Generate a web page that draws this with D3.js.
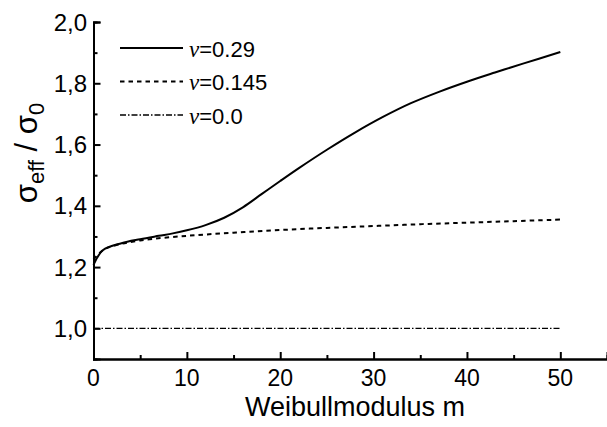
<!DOCTYPE html>
<html>
<head>
<meta charset="utf-8">
<script src="https://cdn.jsdelivr.net/npm/d3@7"></script>
<style>
body { margin: 0; background: #fff; }
svg { display: block; }
text { font-family: "Liberation Sans", Arial, sans-serif; fill: #000; }
</style>
</head>
<body>
<svg id="chart" width="607" height="427"></svg>
<script>
// nu = 0.29
var mSolid = [0, 1, 3, 5, 7, 8.5, 10, 12, 14, 16, 18, 20, 22, 25, 28, 31, 34, 37, 40, 43, 46, 50];
var sSolid = [1.207, 1.255, 1.278, 1.291, 1.302, 1.31, 1.32, 1.337, 1.361, 1.395, 1.438, 1.481, 1.523, 1.583, 1.639, 1.69, 1.735, 1.772, 1.805, 1.835, 1.864, 1.902];
// nu = 0.145
var mDashed = [0, 1, 2, 5, 10, 15, 20, 25, 30, 35, 40, 45, 50];
var sDashed = [1.225, 1.255, 1.268, 1.287, 1.302, 1.312, 1.321, 1.328, 1.334, 1.34, 1.345, 1.35, 1.355];
// nu = 0.0
var mDashDot = [0, 50];
var sDashDot = [1.0, 1.0];

var legendLabels = ["=0.29", "=0.145", "=0.0"];
var xTicks = [0, 10, 20, 30, 40, 50];
var yTicks = [1.0, 1.2, 1.4, 1.6, 1.8, 2.0];

var svg = d3.select("#chart");

var x = d3.scaleLinear().domain([0, 55]).range([93.5, 607]);
var y = d3.scaleLinear().domain([0.9, 2.0]).range([359, 22]);

function fmt(d) { return d3.format(".1f")(d).replace(".", ","); }

// axes, ticks pointing inward
var xAxis = d3.axisTop(x).tickValues(xTicks).tickSize(7).tickFormat("");
var xMinor = d3.axisTop(x).tickValues([5, 15, 25, 35, 45]).tickSize(4).tickFormat("");
var yAxis = d3.axisRight(y).tickValues(yTicks).tickSize(7).tickFormat("");
var yMinor = d3.axisRight(y).tickValues([1.1, 1.3, 1.5, 1.7, 1.9]).tickSize(4).tickFormat("");

svg.append("g").attr("transform", "translate(0," + y(0.9) + ")").call(xAxis);
svg.append("g").attr("transform", "translate(0," + y(0.9) + ")").call(xMinor);
svg.append("g").attr("transform", "translate(" + x(0) + ",0)").call(yAxis);
svg.append("g").attr("transform", "translate(" + x(0) + ",0)").call(yMinor);

svg.selectAll(".domain").attr("stroke", "#000").attr("stroke-width", 2);
svg.selectAll(".tick line").attr("stroke", "#000").attr("stroke-width", 2);

svg.selectAll(".xlab").data(xTicks).enter().append("text")
	.attr("x", function(d){ return x(d); })
	.attr("y", 386)
	.attr("text-anchor", "middle")
	.style("font-size", "23px")
	.text(function(d){ return d; });

svg.selectAll(".ylab").data(yTicks).enter().append("text")
	.attr("x", 87)
	.attr("y", function(d){ return y(d) + 8.5; })
	.attr("text-anchor", "end")
	.style("font-size", "24px")
	.text(fmt);

svg.append("text")
	.attr("x", 355)
	.attr("y", 416)
	.attr("text-anchor", "middle")
	.style("font-size", "27px")
	.text("Weibullmodulus m");

var ylab = svg.append("text")
	.attr("transform", "translate(37,153) rotate(-90)")
	.attr("text-anchor", "middle")
	.style("font-size", "31px");
ylab.append("tspan").text("σ");
ylab.append("tspan").attr("dy", 7).style("font-size", "22px").text("eff");
ylab.append("tspan").attr("dy", -7).text(" / σ");
ylab.append("tspan").attr("dy", 7).style("font-size", "22px").text("0");

// curves
var line = d3.line()
	.x(function(d){ return x(d[0]); })
	.y(function(d){ return y(d[1]); })
	.curve(d3.curveCatmullRom.alpha(0.5));

var series = [
	{m: mSolid, s: sSolid, dash: null, w: 2},
	{m: mDashed, s: sDashed, dash: "4.5,4", w: 2},
	{m: mDashDot, s: sDashDot, dash: "6,2,1.5,2", w: 1.4}
];

series.forEach(function(ser, i){
	var pts = ser.m.map(function(m, j){ return [m, ser.s[j]]; });
	svg.append("path")
		.datum(pts)
		.attr("d", line)
		.attr("fill", "none")
		.attr("stroke", "#000")
		.attr("stroke-width", ser.w)
		.attr("stroke-dasharray", ser.dash);

	var ly = 48 + i * 33.5;
	svg.append("line")
		.attr("x1", 120).attr("x2", 183)
		.attr("y1", ly).attr("y2", ly)
		.attr("stroke", "#000")
		.attr("stroke-width", ser.w)
		.attr("stroke-dasharray", ser.dash);
	var t = svg.append("text")
		.attr("x", 189)
		.attr("y", ly + 8.5)
		.style("font-size", "22px");
	t.append("tspan").style("font-family", "'Liberation Serif', serif").style("font-style", "italic").style("font-size", "23px").text("ν");
	t.append("tspan").text(legendLabels[i]);
});
</script>
</body>
</html>
